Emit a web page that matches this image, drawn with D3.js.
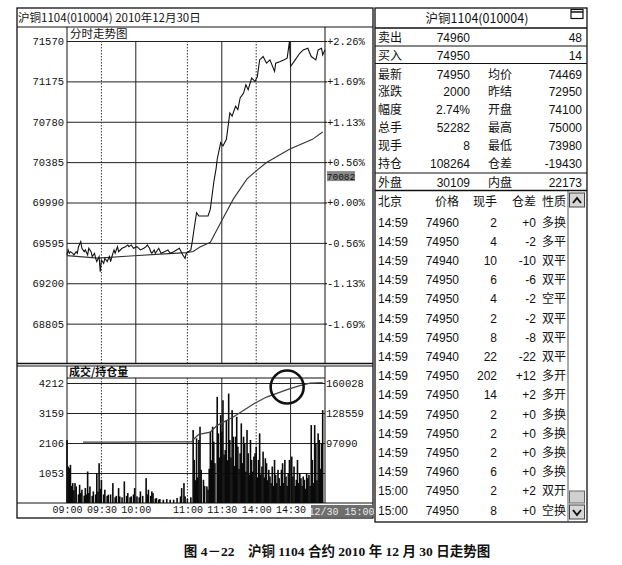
<!DOCTYPE html>
<html>
<head>
<meta charset="utf-8">
<script src="https://cdn.jsdelivr.net/npm/d3@7"></script>
<style>
  body { margin: 0; background: #fff; }
  text { fill: #111; }
</style>
</head>
<body>
<div id="chart"></div>
<script>
// ---- data ----
const priceTicks = [71570, 71175, 70780, 70385, 69990, 69595, 69200, 68805];
const pctLabels = ["+2.26%", "+1.69%", "+1.13%", "+0.56%", "+0.00%", "-0.56%", "-1.13%", "-1.69%"];
const volTicks = [4212, 3159, 2106, 1053];
const oiTicks = [160028, 128559, 97090];
// trading minutes from the 09:00 open (sessions 9:00-10:15, 10:30-11:30, 13:30-15:00)
const timeTicks = [0, 30, 60, 105, 135, 165, 195];
const timeLabels = ["09:00", "09:30", "10:00", "11:00", "11:30", "14:00", "14:30"];
const gridDotted = [30, 105, 165];
const gridSolid = [60, 135, 195];

const priceMin = [0, 1, 2, 3, 5, 6, 8, 9, 10, 12, 13, 15, 16, 18, 19, 21, 22, 24, 25, 26, 28, 29, 30, 32, 33, 35, 37, 38, 40, 41, 42, 44, 45, 48, 51, 53, 54, 56, 58, 61, 64, 67, 69, 70, 72, 73, 74, 76, 77, 80, 82, 85, 88, 90, 93, 98, 101, 103, 104, 108, 109,
  111, 113, 115, 119, 123, 125, 128, 130, 131, 134, 136, 139, 142, 144, 147, 149, 151, 154, 156, 158, 161, 164, 166, 168, 171, 174, 177, 181, 182, 186, 189, 192, 194, 195, 199, 203, 206, 210, 213, 217, 219, 222, 223, 225];
const priceVal = [69477, 69526, 69493, 69509, 69493, 69477, 69509, 69493, 69558, 69607, 69542, 69509, 69526, 69477, 69542, 69509, 69461, 69493, 69444, 69412, 69461, 69314, 69428, 69395, 69444, 69412, 69461, 69412, 69493, 69526, 69493, 69558, 69509, 69542, 69558, 69575, 69558, 69575, 69542, 69558, 69526, 69542, 69558, 69575, 69542, 69509, 69493, 69526, 69493, 69542, 69493, 69509, 69526, 69493, 69509, 69542, 69477, 69444, 69493, 69526, 69591,
  69743, 69891, 69858, 69858, 69858, 69924, 70188, 70319, 70413, 70575, 70543, 70608, 70867, 70835, 70932, 70899, 71013, 71061, 71142, 71094, 71207, 71175, 71223, 71385, 71418, 71353, 71385, 71272, 71353, 71369, 71385, 71402, 71564, 71321, 71385, 71450, 71483, 71499, 71418, 71385, 71483, 71499, 71434, 71483];

const avgMin = [0, 27, 55, 85, 104, 110, 116, 125, 134, 145, 157, 165, 174, 194, 214, 223];
const avgVal = [69470, 69446, 69467, 69487, 69500, 69510, 69555, 69600, 69793, 70023, 70221, 70300, 70381, 70510, 70608, 70679];

const volMin = [0, 1, 2, 3, 4, 5, 6, 7, 8, 10, 11, 12, 13, 15, 16, 17, 18, 19, 20, 22, 23, 25, 26, 27, 28, 29, 30, 32, 33, 35, 36, 38, 40, 42, 43, 45, 46, 48, 50, 52, 53, 55, 56, 58, 59, 61, 63, 64, 66, 69, 70, 71, 73, 74, 75, 77, 78, 80, 81, 84, 87, 90, 93, 96, 99, 100, 102, 103, 105, 108,
  110, 111, 112, 113, 114, 115, 116, 117, 119, 120, 122, 123, 124, 125, 126, 127, 128, 129, 131, 132, 133, 134, 135, 136, 137, 138, 139, 140, 141, 142, 143, 144, 145, 146, 147, 148, 149, 150, 151, 152, 153, 154, 155, 156, 157, 158, 159, 160, 161, 162, 163, 164, 165, 166, 167, 168, 169, 170, 171, 172, 173, 174, 175, 176, 177, 178, 179, 180, 181, 182, 183, 184, 185, 186, 187, 188, 189, 190, 191, 192, 193, 194, 196, 197, 198, 199, 200, 201, 202, 203, 204, 205, 206, 207, 208, 209, 210, 211, 212, 213, 214, 215, 216, 217, 218, 219, 220, 221, 222, 223];
const volVal = [2212, 1280, 1222, 1339, 600, 698, 450, 698, 582, 300, 640, 350, 466, 260, 524, 300, 1106, 350, 582, 250, 407, 300, 1048, 400, 1397, 500, 815, 300, 466, 250, 291, 300, 698, 200, 250, 524, 233, 200, 757, 250, 349, 200, 233, 300, 524, 233, 200, 407, 250, 873, 300, 466, 250, 407, 349, 150, 175, 120, 140, 116, 140, 116, 116, 175, 233, 524, 698, 233, 150, 200,
  2561, 1513, 800, 2270, 900, 2212, 2677, 1164, 815, 600, 582, 466, 1200, 2503, 1500, 2677, 2153, 1400, 3725, 2444, 1600, 3085, 2503, 3608, 1700, 1862, 2910, 1500, 3841, 2212, 1600, 3259, 2328, 1300, 2328, 3026, 1979, 1200, 1746, 2794, 1400, 2328, 2095, 1100, 2561, 1746, 1000, 2212, 1513, 1100, 1630, 1746, 1979, 900, 1513, 2444, 1000, 1280, 1804, 900, 1572, 1397, 800, 1164, 931, 700, 1280, 600, 1513, 989, 700, 1164, 873, 600, 1164, 1397, 700, 1513, 931, 600, 1048, 1513, 1630, 931, 1280, 600, 815, 1513, 700, 1048, 873, 600, 931, 815, 500, 1048, 873, 989, 600, 2735, 1513, 700, 2735, 2095, 800, 2444, 2212, 1200, 2095, 3259, 3317];

const oiMin = [14, 40, 80, 109, 110, 115, 125, 131, 145, 163, 174, 192, 203, 212, 223];
const oiVal = [98000, 98100, 98200, 98400, 100600, 106200, 108600, 115600, 124300, 138300, 145300, 153000, 157200, 160000, 160500];

const quoteRows = [["卖出", "74960", "", "48"], ["买入", "74950", "", "14"]];
const statRows = [
  ["最新", "74950", "均价", "74469"],
  ["涨跌", "2000", "昨结", "72950"],
  ["幅度", "2.74%", "开盘", "74100"],
  ["总手", "52282", "最高", "75000"],
  ["现手", "8", "最低", "73980"],
  ["持仓", "108264", "仓差", "-19430"]
];
const outerRow = ["外盘", "30109", "内盘", "22173"];
const tickHeader = ["北京", "价格", "现手", "仓差", "性质"];
const tickRows = [
  ["14:59", "74960", "2", "+0", "多换"],
  ["14:59", "74950", "4", "-2", "多平"],
  ["14:59", "74940", "10", "-10", "双平"],
  ["14:59", "74950", "6", "-6", "双平"],
  ["14:59", "74950", "4", "-2", "空平"],
  ["14:59", "74950", "2", "-2", "双平"],
  ["14:59", "74950", "8", "-8", "双平"],
  ["14:59", "74940", "22", "-22", "双平"],
  ["14:59", "74950", "202", "+12", "多开"],
  ["14:59", "74950", "14", "+2", "多开"],
  ["14:59", "74950", "2", "+0", "多换"],
  ["14:59", "74950", "2", "+0", "多换"],
  ["14:59", "74950", "2", "+0", "多换"],
  ["14:59", "74960", "6", "+0", "多换"],
  ["15:00", "74950", "2", "+2", "双开"],
  ["15:00", "74950", "8", "+0", "空换"]
];

// ---- layout ----
const WIDTH = 622, HEIGHT = 565;
const PX0 = 67, PX1 = 325;
const MONO = "'Liberation Mono', 'DejaVu Sans Mono', monospace";
const SANS = "'Liberation Sans', Arial, 'Noto Sans CJK SC', sans-serif";
const CJK = "'Noto Sans CJK SC', sans-serif";

const svg = d3.select("#chart").append("svg")
  .attr("width", WIDTH).attr("height", HEIGHT)
  .style("font-family", SANS);

svg.append("rect").attr("width", WIDTH).attr("height", HEIGHT).attr("fill", "#fff");

const x = d3.scaleLinear().domain([0, 225]).range([PX0, PX1]);
const yPrice = d3.scaleLinear().domain([68410, 71570]).range([364, 41]);
const yVol = d3.scaleLinear().domain([0, 4212]).range([503, 383]);
const yOI = d3.scaleLinear().domain([34152, 160028]).range([503, 383]);

// ---- left panel frame ----
const frame = svg.append("g").attr("stroke", "#111").attr("fill", "none");
frame.append("rect").attr("x", 17).attr("y", 8).attr("width", 356).attr("height", 510).attr("stroke-width", 1.3);
frame.append("line").attr("x1", 17).attr("x2", 373).attr("y1", 27).attr("y2", 27);
frame.append("line").attr("x1", 17).attr("x2", 373).attr("y1", 363.5).attr("y2", 363.5).attr("stroke-width", 1.5);
frame.append("line").attr("x1", 17).attr("x2", 373).attr("y1", 366).attr("y2", 366).attr("stroke-width", 1);
frame.append("line").attr("x1", 17).attr("x2", 373).attr("y1", 503).attr("y2", 503);
frame.append("line").attr("x1", PX0).attr("x2", PX1).attr("y1", 378).attr("y2", 378);
[PX0, PX1].forEach(px => {
  frame.append("line").attr("x1", px).attr("x2", px).attr("y1", 27).attr("y2", 363);
  frame.append("line").attr("x1", px).attr("x2", px).attr("y1", 366).attr("y2", 503);
});

svg.append("text").attr("x", 18).attr("y", 22)
  .style("font-family", CJK).style("font-size", "11.5px")
  .text("沪铜1104(010004) 2010年12月30日");
svg.append("text").attr("x", 70).attr("y", 38)
  .style("font-family", CJK).style("font-size", "11.5px")
  .text("分时走势图");
svg.append("text").attr("x", 69).attr("y", 376)
  .style("font-family", CJK).style("font-size", "11px").style("font-weight", "bold")
  .text("成交/持仓量");

// ---- price panel ----
const priceAxis = svg.append("g").attr("transform", `translate(${PX0},0)`)
  .call(d3.axisLeft(yPrice).tickValues(priceTicks).tickSize(-(PX1 - PX0)).tickPadding(3).tickFormat(d3.format("d")));
priceAxis.select(".domain").remove();
priceAxis.selectAll("line").attr("stroke", "#222");
priceAxis.selectAll("text").style("font-family", MONO).style("font-size", "10.5px").attr("fill", "#222");

const pctAxis = svg.append("g").attr("transform", `translate(${PX1},0)`)
  .call(d3.axisRight(yPrice).tickValues(priceTicks).tickSize(2).tickPadding(0).tickFormat((d, i) => pctLabels[i]));
pctAxis.select(".domain").remove();
pctAxis.selectAll("text").style("font-family", MONO).style("font-size", "10.5px").attr("fill", "#222");

// vertical time grid, both panels
[[41, 363], [378, 503]].forEach(([top, bot]) => {
  svg.append("g").selectAll("line").data(gridSolid).join("line")
    .attr("x1", d => x(d)).attr("x2", d => x(d)).attr("y1", top).attr("y2", bot)
    .attr("stroke", "#222").attr("stroke-width", 1);
  svg.append("g").selectAll("line").data(gridDotted).join("line")
    .attr("x1", d => x(d)).attr("x2", d => x(d)).attr("y1", top).attr("y2", bot)
    .attr("stroke", "#333").attr("stroke-width", 1).attr("stroke-dasharray", "1.5,1.5");
});

const avgPts = avgMin.map((m, i) => [m, avgVal[i]]);
svg.append("path").datum(avgPts)
  .attr("fill", "none").attr("stroke", "#333").attr("stroke-width", 1.1)
  .attr("d", d3.line().x(d => x(d[0])).y(d => yPrice(d[1])));

const pricePts = priceMin.map((m, i) => [m, priceVal[i]]);
svg.append("path").datum(pricePts)
  .attr("fill", "none").attr("stroke", "#111").attr("stroke-width", 1.1)
  .attr("d", d3.line().x(d => x(d[0])).y(d => yPrice(d[1])));

// cursor price tag
const tag = svg.append("g").attr("transform", `translate(327,${yPrice(70082) - 22})`);
tag.append("rect").attr("width", 28).attr("height", 10).attr("fill", "#8a8a8a");
tag.append("text").attr("x", 14).attr("y", 8.5).attr("text-anchor", "middle")
  .style("font-family", MONO).style("font-size", "9.5px").attr("fill", "#111").text("70082");

// ---- volume panel ----
const volAxis = svg.append("g").attr("transform", `translate(${PX0},0)`)
  .call(d3.axisLeft(yVol).tickValues(volTicks).tickSize(-(PX1 - PX0)).tickPadding(3).tickFormat(d3.format("d")));
volAxis.select(".domain").remove();
volAxis.selectAll("line").attr("stroke", "#222");
volAxis.selectAll("text").style("font-family", MONO).style("font-size", "10.5px").attr("fill", "#222");

const oiAxis = svg.append("g").attr("transform", `translate(${PX1},0)`)
  .call(d3.axisRight(yOI).tickValues(oiTicks).tickSize(0).tickPadding(1).tickFormat(d3.format("d")));
oiAxis.select(".domain").remove();
oiAxis.selectAll("text").style("font-family", MONO).style("font-size", "10.5px").attr("fill", "#222");

svg.append("g").selectAll("rect").data(volMin).join("rect")
  .attr("x", d => x(d) - 0.8).attr("width", 1.6)
  .attr("y", (d, i) => yVol(volVal[i]))
  .attr("height", (d, i) => yVol(0) - yVol(volVal[i]))
  .attr("fill", "#0a0a0a");

const oiPts = oiMin.map((m, i) => [m, oiVal[i]]);
svg.append("path").datum(oiPts)
  .attr("fill", "none").attr("stroke", "#444").attr("stroke-width", 1.3)
  .attr("d", d3.line().x(d => x(d[0])).y(d => yOI(d[1])));

svg.append("circle").attr("cx", x(192)).attr("cy", yVol(4072)).attr("r", 16.5)
  .attr("fill", "none").attr("stroke", "#111").attr("stroke-width", 2.6);

// time axis
const timeAxis = svg.append("g").attr("transform", "translate(0,504)")
  .call(d3.axisBottom(x).tickValues(timeTicks).tickSize(0).tickPadding(2).tickFormat((d, i) => timeLabels[i]));
timeAxis.select(".domain").remove();
timeAxis.selectAll("text").style("font-family", MONO).style("font-size", "10px").attr("fill", "#222");
svg.append("rect").attr("x", 311).attr("y", 505).attr("width", 61).attr("height", 12).attr("fill", "#6e6e6e");
svg.append("text").attr("x", 341.5).attr("y", 514.5).attr("text-anchor", "middle")
  .style("font-family", MONO).style("font-size", "10px").style("fill", "#e8e8e8")
  .text("12/30 15:00");

// ---- right info panel ----
const R0 = 375, R1 = 587;
const info = svg.append("g");
info.append("rect").attr("x", R0).attr("y", 8).attr("width", R1 - R0).attr("height", 514)
  .attr("fill", "none").attr("stroke", "#111").attr("stroke-width", 1.3);
[28, 46, 63.5, 173, 190.5].forEach(yy => {
  info.append("line").attr("x1", R0).attr("x2", R1).attr("y1", yy).attr("y2", yy)
    .attr("stroke", "#111").attr("stroke-width", yy === 28 || yy === 190.5 ? 1.3 : 1);
});
info.append("text").attr("x", 477).attr("y", 23).attr("text-anchor", "middle")
  .style("font-family", CJK).style("font-size", "12.5px").text("沪铜1104(010004)");
info.append("rect").attr("x", 571).attr("y", 9.5).attr("width", 12).attr("height", 9)
  .attr("fill", "#fff").attr("stroke", "#111").attr("stroke-width", 1.2);
info.append("line").attr("x1", 571).attr("x2", 583).attr("y1", 12).attr("y2", 12).attr("stroke", "#111").attr("stroke-width", 1.5);

function infoRow(row, cy) {
  const g = info.append("g").attr("transform", `translate(0,${cy + 4.5})`).style("font-size", "12px");
  g.append("text").attr("x", 378).style("font-family", CJK).text(row[0]);
  g.append("text").attr("x", 470).attr("text-anchor", "end").text(row[1]);
  if (row[2]) g.append("text").attr("x", 488).style("font-family", CJK).text(row[2]);
  g.append("text").attr("x", 582).attr("text-anchor", "end").text(row[3]);
}
quoteRows.forEach((r, i) => infoRow(r, 37 + i * 18));
statRows.forEach((r, i) => infoRow(r, 74 + i * 17.9));
infoRow(outerRow, 182);

const tickCols = [
  {x: 378, anchor: "start"},
  {x: 459, anchor: "end"},
  {x: 497, anchor: "end"},
  {x: 536, anchor: "end"},
  {x: 542, anchor: "start"}
];
function tickRow(row, cy) {
  const g = info.append("g").attr("transform", `translate(0,${cy + 4.5})`).style("font-size", "12px");
  row.forEach((v, j) => {
    g.append("text").attr("x", tickCols[j].x).attr("text-anchor", tickCols[j].anchor)
      .style("font-family", /[\u4e00-\u9fff]/.test(v) ? CJK : SANS).text(v);
  });
}
tickRow(tickHeader, 201);
tickRows.forEach((r, i) => tickRow(r, 222 + i * 19.2));

// scrollbar
info.append("line").attr("x1", 568).attr("x2", 568).attr("y1", 191).attr("y2", 522).attr("stroke", "#555");
info.append("rect").attr("x", 569.5).attr("y", 193).attr("width", 15).attr("height", 14)
  .attr("fill", "#d6d6d6").attr("stroke", "#444");
info.append("path").attr("d", "M573,203 L577,198 L581,203").attr("fill", "none").attr("stroke", "#111").attr("stroke-width", 2);
info.append("rect").attr("x", 569.5).attr("y", 491).attr("width", 15).attr("height", 12)
  .attr("fill", "#d0d0d0").attr("stroke", "#666");
info.append("rect").attr("x", 569.5).attr("y", 505).attr("width", 15).attr("height", 14)
  .attr("fill", "#d6d6d6").attr("stroke", "#444");
info.append("path").attr("d", "M573,510 L577,515 L581,510").attr("fill", "none").attr("stroke", "#111").attr("stroke-width", 2);

// ---- caption ----
svg.append("text").attr("x", 337).attr("y", 556).attr("text-anchor", "middle")
  .style("font-family", "'Liberation Serif', 'Noto Sans CJK SC', serif").style("font-weight", "bold")
  .style("font-size", "13.5px").attr("xml:space", "preserve")
  .text("图 4－22    沪铜 1104 合约 2010 年 12 月 30 日走势图");
</script>
</body>
</html>
